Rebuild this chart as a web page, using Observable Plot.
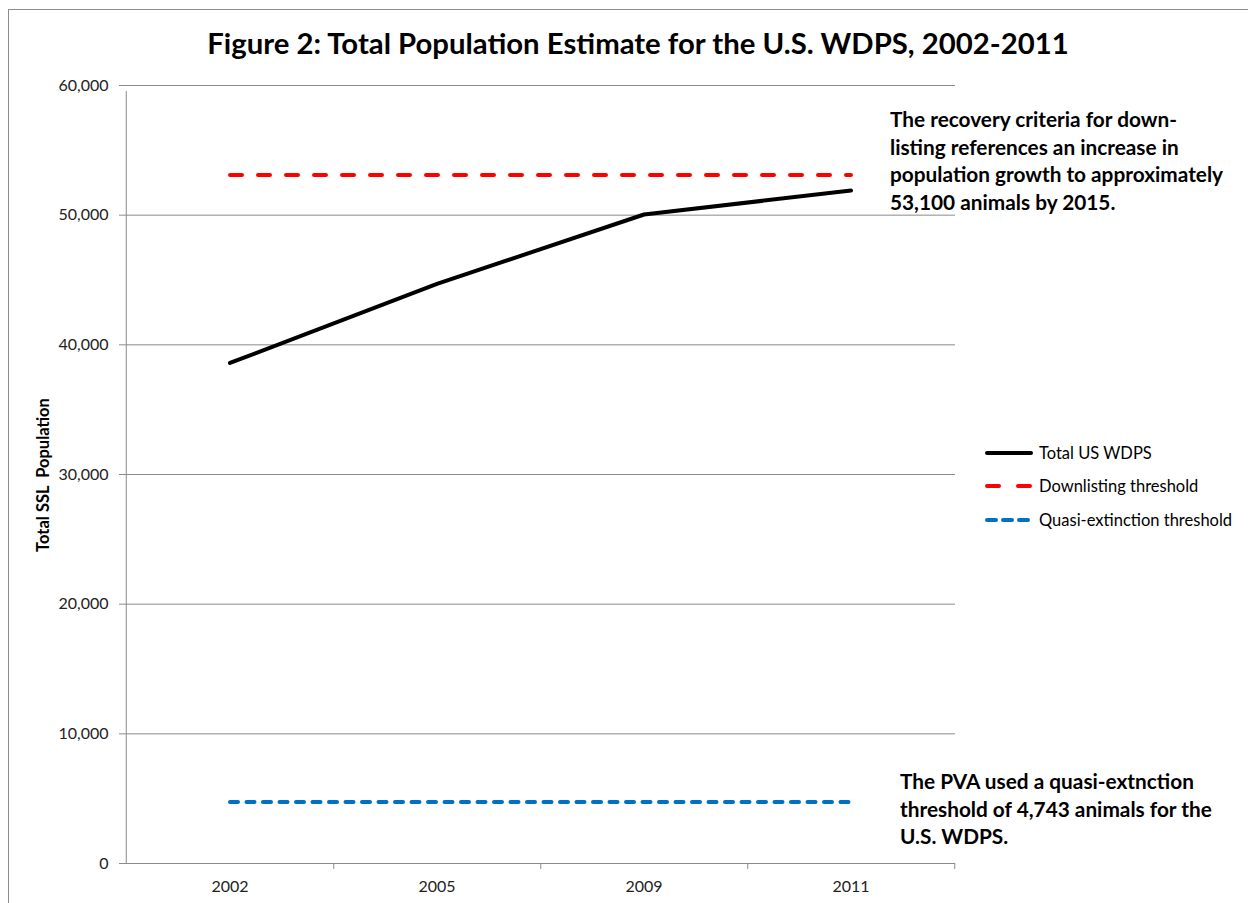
<!DOCTYPE html>
<html>
<head>
<meta charset="utf-8">
<script src="https://cdn.jsdelivr.net/npm/d3@7"></script>
<script src="https://cdn.jsdelivr.net/npm/@observablehq/plot@0.6"></script>
<style>
  html, body { margin: 0; padding: 0; background: #fff; }
  body { font-family: Lato, "Open Sans", sans-serif; color: #000; }
  #wrap { position: relative; width: 1248px; height: 903px; overflow: hidden; }
  #border { position: absolute; left: 8px; top: 9px; width: 1400px; height: 1000px;
            border-left: 1px solid #8c8c8c; border-top: 1px solid #8c8c8c; }
  #title { position: absolute; left: 0; width: 1276px; top: 25px; text-align: center;
           font-weight: 700; font-size: 29.3px; white-space: nowrap; }
  .note { position: absolute; font-weight: 700; font-size: 20.8px; line-height: 27.5px; white-space: nowrap; }
  #ylabel { position: absolute; left: 43px; top: 475px; transform: translate(-50%, -50%) rotate(-90deg);
            font-weight: 700; font-size: 16.5px; white-space: pre; }
  #legend { position: absolute; left: 985px; top: 436px; font-size: 16.5px; }
  .item { display: flex; align-items: center; height: 33.5px; }
  .item svg { margin-right: 4px; }
  #chart { position: absolute; left: 0; top: 0; }
</style>
</head>
<body>
<div id="wrap">
  <div id="border"></div>
  <div id="chart"></div>
  <div id="title">Figure 2: Total Population Estimate for the U.S. WDPS, 2002-2011</div>
  <div id="ylabel">Total SSL  Population</div>
  <div class="note" id="noteTop" style="left:890px; top:105px;">The recovery criteria for down-<br>listing references an increase in<br>population growth to approximately<br>53,100 animals by 2015.</div>
  <div class="note" id="noteBottom" style="left:900px; top:767px;">The PVA used a quasi-extnction<br>threshold of 4,743 animals for the<br>U.S. WDPS.</div>
  <div id="legend"></div>
</div>
<script>
// Survey years and total Western DPS Steller sea lion counts
const years = ["2002", "2005", "2009", "2011"];
const totalWDPS = [38600, 44700, 50050, 51900];

// Reference thresholds
const downlistingThreshold = 53100;
const quasiExtinctionThreshold = 4743;

// Y axis ticks
const yTicks = [0, 10000, 20000, 30000, 40000, 50000, 60000];

const series = [
  {name: "Total US WDPS", color: "#000000", dash: null, legendDash: null},
  {name: "Downlisting threshold", color: "#ff0000", dash: "12,16", legendDash: "12,19"},
  {name: "Quasi-extinction threshold", color: "#0070c0", dash: "8,8.5", legendDash: "9,7"}
];

const rows = years.map((year, i) => ({
  year,
  total: totalWDPS[i],
  down: downlistingThreshold,
  quasi: quasiExtinctionThreshold
}));

const W = 1248, H = 903;
const mLeft = 125, mRight = 293, mTop = 85, mBottom = 40;
const bandwidth = (W - mLeft - mRight) / years.length;
const grid = "#8a8a8a";

const chart = Plot.plot({
  width: W,
  height: H,
  marginLeft: mLeft,
  marginRight: mRight,
  marginTop: mTop,
  marginBottom: mBottom,
  style: {fontFamily: "Lato, 'Open Sans', sans-serif", fontSize: "16px", color: "#222", background: "transparent"},
  x: {type: "band", domain: years, padding: 0, label: null},
  y: {domain: [0, 60000], label: null},
  marks: [
    Plot.gridY(yTicks, {stroke: grid, strokeOpacity: 1, strokeWidth: 1}),
    Plot.axisY(yTicks, {tickFormat: d3.format(","), tickSize: 6, tickPadding: 11, stroke: grid, fontSize: 16, fill: "#222", label: null}),
    Plot.axisX({tickSize: 0, tickPadding: 17, fontSize: 16, fill: "#222", label: null}),
    Plot.axisX({tickSize: 6, tickFormat: () => "", stroke: grid, dx: bandwidth / 2, label: null}),
    Plot.ruleX([years[0]], {dx: -bandwidth / 2, y1: 0, y2: 60000, stroke: grid, insetBottom: -6}),
    Plot.ruleY([0], {stroke: grid}),
    Plot.line(rows, {x: "year", y: "down", stroke: series[1].color, strokeWidth: 4, strokeDasharray: series[1].dash, strokeLinecap: "round"}),
    Plot.line(rows, {x: "year", y: "quasi", stroke: series[2].color, strokeWidth: 4, strokeDasharray: series[2].dash, strokeLinecap: "round"}),
    Plot.line(rows, {x: "year", y: "total", stroke: series[0].color, strokeWidth: 4, strokeLinecap: "round"})
  ]
});
document.getElementById("chart").append(chart);

// Legend built from the series definitions
const legend = d3.select("#legend");
for (const s of series) {
  const item = legend.append("div").attr("class", "item");
  const svg = item.append("svg").attr("width", 50).attr("height", 10);
  svg.append("line")
    .attr("x1", 2).attr("x2", 46).attr("y1", 5).attr("y2", 5)
    .attr("stroke", s.color).attr("stroke-width", 4)
    .attr("stroke-linecap", "round")
    .attr("stroke-dasharray", s.legendDash);
  item.append("span").text(s.name);
}
</script>
</body>
</html>
